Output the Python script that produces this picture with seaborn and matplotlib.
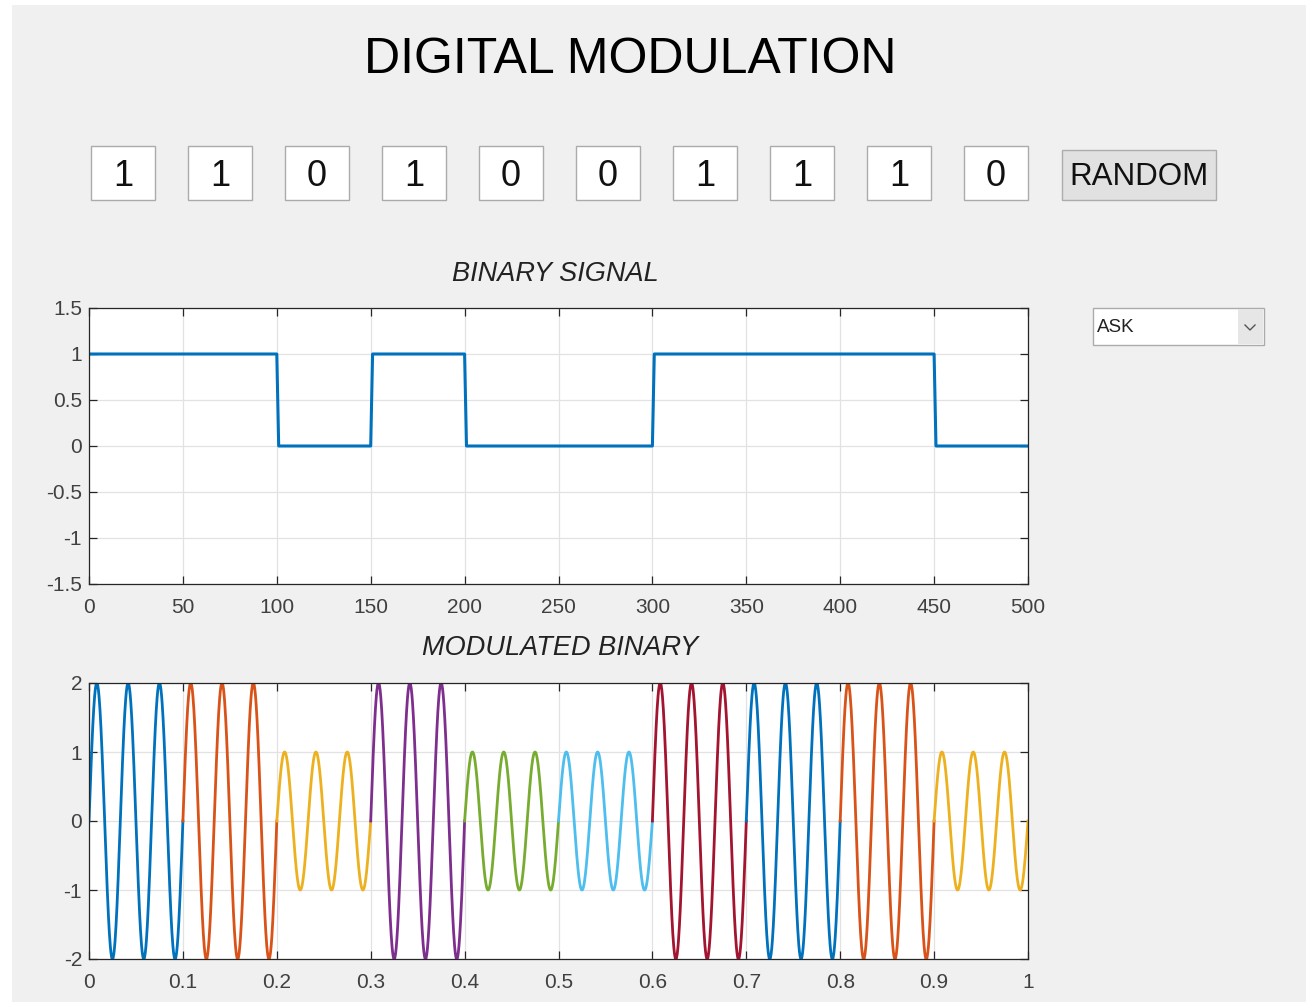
import numpy as np
import pandas as pd
import matplotlib
matplotlib.use("Agg")
import matplotlib.pyplot as plt
import seaborn as sns
from matplotlib.patches import Rectangle
from matplotlib.lines import Line2D

# ---------------- data ----------------
bits = [1, 1, 0, 1, 0, 0, 1, 1, 1, 0]
samples_per_bit = 50
bit_duration = 0.1
carrier_freq = 30          # 3 cycles per bit
amp_one = 2
amp_zero = 1

title_text = "DIGITAL MODULATION"
button_label = "RANDOM"
menu_label = "ASK"
binary_title = "BINARY SIGNAL"
mod_title = "MODULATED BINARY"

binary_xticks = [0, 50, 100, 150, 200, 250, 300, 350, 400, 450, 500]
binary_yticks = [-1.5, -1, -0.5, 0, 0.5, 1, 1.5]
binary_yticklabels = ["-1.5", "-1", "-0.5", "0", "0.5", "1", "1.5"]
mod_xticks = [0, 0.1, 0.2, 0.3, 0.4, 0.5, 0.6, 0.7, 0.8, 0.9, 1]
mod_xticklabels = ["0", "0.1", "0.2", "0.3", "0.4", "0.5", "0.6", "0.7", "0.8", "0.9", "1"]
mod_yticks = [-2, -1, 0, 1, 2]

matlab_colors = ["#0072BD", "#D95319", "#EDB120", "#7E2F8E",
                 "#77AC30", "#4DBEEE", "#A2142F"]

# ---------------- frames ----------------
binary_df = pd.DataFrame({
    "sample": np.arange(1, len(bits) * samples_per_bit + 1),
    "level": np.repeat(bits, samples_per_bit),
})

rows = []
for i, b in enumerate(bits):
    t = np.linspace(i * bit_duration, (i + 1) * bit_duration, 300)
    amp = amp_one if b == 1 else amp_zero
    y = amp * np.sin(2 * np.pi * carrier_freq * t)
    rows.append(pd.DataFrame({"t": t, "y": y, "seg": f"s{i}"}))
mod_df = pd.concat(rows, ignore_index=True)
seg_order = [f"s{i}" for i in range(len(bits))]
seg_palette = [matlab_colors[i % len(matlab_colors)] for i in range(len(bits))]

# ---------------- figure ----------------
plt.rcParams["font.family"] = ["Liberation Sans", "DejaVu Sans"]
W, H = 1306, 1002
fig = plt.figure(figsize=(W / 100, H / 100), dpi=100, facecolor="white")


def fx(x):
    return x / W


def fy(y):
    return 1 - y / H


# panel background
fig.patches.append(Rectangle((fx(12), 0), 1 - fx(12), fy(5), transform=fig.transFigure,
                             facecolor="#F0F0F0", edgecolor="none", zorder=-5))

fig.text(fx(630), fy(60), title_text, ha="center", va="center", fontsize=36, color="black")

# bit boxes
for i, b in enumerate(bits):
    x0 = 91 + 97 * i
    fig.patches.append(Rectangle((fx(x0), fy(200)), 64 / W, 54 / H, transform=fig.transFigure,
                                 facecolor="white", edgecolor="#ABABAB", linewidth=1.0, zorder=1))
    fig.text(fx(x0 + 32), fy(176), str(b), ha="center", va="center", fontsize=26,
             color="#111111", zorder=2)

# RANDOM button
fig.patches.append(Rectangle((fx(1062), fy(200)), 154 / W, 50 / H, transform=fig.transFigure,
                             facecolor="#E1E1E1", edgecolor="#ADADAD", linewidth=1.0, zorder=1))
fig.text(fx(1139), fy(177), button_label, ha="center", va="center", fontsize=22.5,
         color="#111111", zorder=2)

# dropdown
fig.patches.append(Rectangle((fx(1093), fy(345)), 171 / W, 37 / H, transform=fig.transFigure,
                             facecolor="white", edgecolor="#ABABAB", linewidth=1.0, zorder=1))
fig.patches.append(Rectangle((fx(1238), fy(344)), 25 / W, 35 / H, transform=fig.transFigure,
                             facecolor="#E6E6E6", edgecolor="none", zorder=1))
fig.lines.append(Line2D([fx(1245), fx(1250), fx(1255)], [fy(325), fy(330), fy(325)],
                        transform=fig.transFigure, color="#555555", linewidth=1.0, zorder=2))
fig.text(fx(1097), fy(328), menu_label, ha="left", va="center", fontsize=13.5,
         color="#222222", zorder=2)


def style_axes(ax):
    ax.set_zorder(5)
    ax.set_facecolor("white")
    for s in ax.spines.values():
        s.set_visible(True)
        s.set_color("#262626")
        s.set_linewidth(0.9)
    ax.tick_params(direction="in", top=True, right=True, length=6, width=0.9,
                   color="#262626", labelsize=15, labelcolor="#404040")
    ax.tick_params(axis="x", pad=10)
    ax.tick_params(axis="y", pad=5)
    ax.grid(True, color="#E2E2E2", linewidth=0.9)
    ax.set_axisbelow(True)
    ax.set_xlabel("")
    ax.set_ylabel("")


# binary signal axes
ax1 = fig.add_axes([fx(89), fy(584), 939 / W, 276 / H])
sns.lineplot(data=binary_df, x="sample", y="level", color="#0072BD", linewidth=2.2,
             estimator=None, ax=ax1)
ax1.set_xlim(0, 500)
ax1.set_ylim(-1.5, 1.5)
ax1.set_xticks(binary_xticks)
ax1.set_xticklabels([str(v) for v in binary_xticks])
ax1.set_yticks(binary_yticks)
ax1.set_yticklabels(binary_yticklabels)
style_axes(ax1)
fig.text(fx(555), fy(274), binary_title, ha="center", va="center", fontsize=19.5,
         style="italic", color="#222222")

# modulated axes
ax2 = fig.add_axes([fx(89), fy(959), 939 / W, 276 / H])
sns.lineplot(data=mod_df, x="t", y="y", hue="seg", hue_order=seg_order, palette=seg_palette,
             linewidth=2.0, estimator=None, sort=False, legend=False, ax=ax2)
ax2.set_xlim(0, 1)
ax2.set_ylim(-2, 2)
ax2.set_xticks(mod_xticks)
ax2.set_xticklabels(mod_xticklabels)
ax2.set_yticks(mod_yticks)
ax2.set_yticklabels([str(v) for v in mod_yticks])
style_axes(ax2)
fig.text(fx(560), fy(648), mod_title, ha="center", va="center", fontsize=19.5,
         style="italic", color="#222222")

fig.savefig("out.png", dpi=100, facecolor=fig.get_facecolor())
